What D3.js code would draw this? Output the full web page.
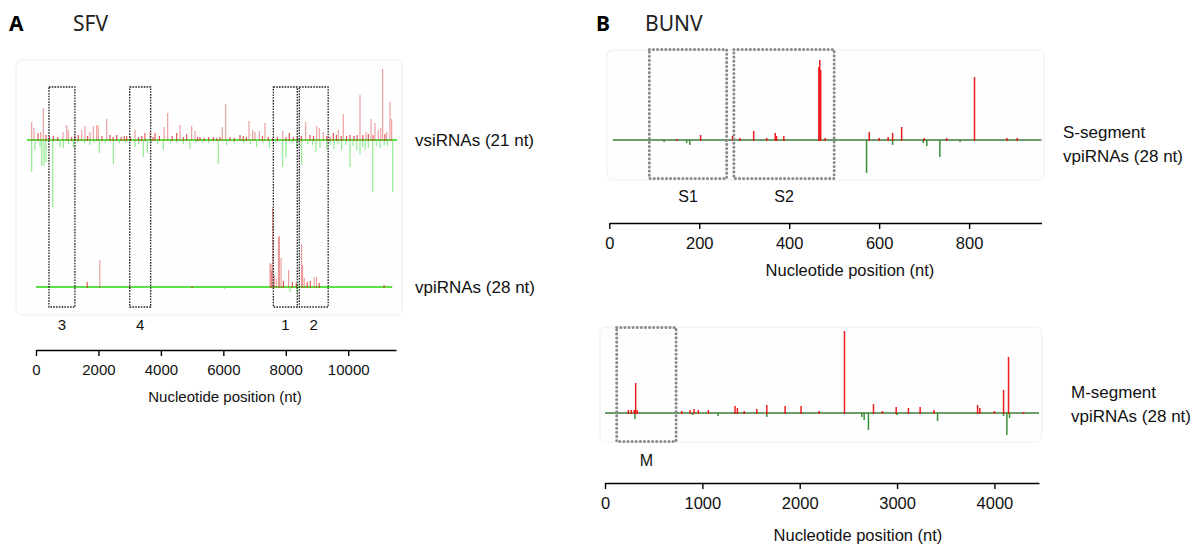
<!DOCTYPE html>
<html>
<head>
<meta charset="utf-8">
<script src="https://cdnjs.cloudflare.com/ajax/libs/d3/7.8.5/d3.min.js"></script>
<style>
  body { margin: 0; background: #fff; }
  text { font-family: "Liberation Sans", Arial, sans-serif; }
</style>
</head>
<body>
<script>
// SFV genome, read counts per position (21 nt siRNAs, + strand up / - strand down)
var sfvSiPlus = [[147,18],[219,12],[345,7],[430,8],[511,32],[596,5],[700,4],[825,4],[960,3],[1129,8],[1245,15],[1295,10],[1400,3],[1500,4],[1608,5],[1715,10],[1818,14],[1900,4],[1975,8],[2079,14],[2185,15],[2235,14],[2350,4],[2499,21],[2602,5],[2700,3],[2812,5],[2950,3],[3050,4],[3126,4],[3250,3],[3386,10],[3500,3],[3600,4],[3699,7],[3856,8],[3950,3],[4013,7],[4150,4],[4295,13],[4411,27],[4550,4],[4693,7],[4797,15],[4900,3],[5006,6],[5163,14],[5267,9],[5350,3],[5424,3],[5550,2],[5700,3],[5841,3],[5950,2],[6050,3],[6123,13],[6229,36],[6364,3],[6500,2],[6678,5],[6781,4],[6880,3],[6960,19],[7076,10],[7148,8],[7282,9],[7380,4],[7461,17],[7565,3],[7700,2],[7850,3],[8016,9],[8120,3],[8223,7],[8350,3],[8474,3],[8600,4],[8737,18],[8872,5],[8980,4],[9082,14],[9164,12],[9289,8],[9400,4],[9500,3],[9603,7],[9700,5],[9759,10],[9850,4],[9916,26],[10020,4],[10126,5],[10250,4],[10350,5],[10440,45],[10530,5],[10628,8],[10700,6],[10784,21],[10850,5],[10910,17],[11013,10],[11089,12],[11151,71],[11220,6],[11277,8],[11380,38],[11433,21]];
var sfvSiMinus = [[147,32],[251,10],[408,7],[461,26],[533,26],[596,22],[806,67],[1035,7],[1138,8],[1300,4],[1452,7],[1600,3],[1800,3],[1975,5],[2100,3],[2267,13],[2450,3],[2706,24],[2900,3],[3100,3],[3386,7],[3500,4],[3646,17],[3772,13],[3900,3],[4100,4],[4273,10],[4500,3],[4700,3],[4900,4],[5110,9],[5300,3],[5500,3],[5700,3],[5997,24],[6261,5],[6500,3],[6800,3],[7000,4],[7201,7],[7400,3],[7596,8],[7800,3],[8016,27],[8120,18],[8300,3],[8455,8],[8612,25],[8800,4],[8950,5],[9060,12],[9185,8],[9396,10],[9500,5],[9625,9],[9750,4],[9866,10],[10000,5],[10126,27],[10220,6],[10336,10],[10440,15],[10520,7],[10597,10],[10700,8],[10838,52],[10950,6],[11066,8],[11200,5],[11300,6],[11465,52]];
// SFV 28 nt piRNAs
var sfvPiPlus = [[1639,5],[2044,27],[3000,1],[5000,1],[7496,24],[7528,23],[7548,16],[7579,79],[7634,12],[7698,8],[7771,50],[7793,51],[7848,29],[7921,6],[8090,17],[8209,5],[8336,4],[8506,43],[8538,22],[8592,9],[8688,5],[8783,6],[8911,10],[8985,10],[9071,4],[11147,2]];
var sfvPiMinus = [[3641,1],[6037,2],[8135,5],[8359,6],[9500,1]];
var sfvBoxes = [["3",415,1246],["4",3002,3673],["1",7602,8368],["2",8432,9358]];
var sfvTicks = [0, 2000, 4000, 6000, 8000, 10000];

// BUNV S segment piRNAs
var sPlus = [[150,1],[203,5],[274,4],[290,2],[321,9],[350,2],[369,7],[372,4],[388,4],[466,73],[468,80],[470,70],[480,2],[578,8],[600,2],[620,3],[630,7],[650,13],[700,2],[750,2],[812,63],[884,2],[907,2]];
var sMinus = [[122,2],[172,3],[179,5],[260,2],[572,33],[630,5],[698,3],[706,6],[735,17],[780,2]];
var sBoxes = [["S1",89,261],["S2",277,500]];
var sTicks = [0, 200, 400, 600, 800];

// BUNV M segment piRNAs
var mPlus = [[240,3],[270,3],[300,3],[315,30],[330,3],[788,2],[874,3],[915,4],[959,3],[1062,3],[1336,7],[1360,5],[1430,2],[1559,4],[1662,8],[1850,7],[2014,7],[2200,2],[2460,82],[2758,9],[2850,2],[2991,6],[3117,5],[3237,6],[3380,3],[3827,8],[3850,5],[4000,2],[4094,23],[4145,56],[4300,1]];
var mMinus = [[308,6],[900,2],[1160,3],[1662,4],[2638,4],[2662,7],[2706,17],[3000,2],[3416,8],[4094,3],[4128,22],[4155,5]];
var mBoxes = [["M",120,730]];
var mTicks = [0, 1000, 2000, 3000, 4000];

var svg = d3.select("body")
  .append("svg")
  .attr("width", 1200)
  .attr("height", 544);

// one track: baseline + up/down bars
function drawTrack(x, y0, plus, minus, from, to, opt) {
  var y = d3.scaleLinear().domain([0, 100]).range([0, 100]);

  svg.append("g").selectAll("line")
    .data(minus)
    .join("line")
    .attr("x1", function(d) { return x(d[0]); })
    .attr("x2", function(d) { return x(d[0]); })
    .attr("y1", y0)
    .attr("y2", function(d) { return y0 + y(d[1]); })
    .style("stroke", opt.minus)
    .style("stroke-width", opt.w)
    .style("opacity", opt.minusOp);

  svg.append("line")
    .attr("x1", x(from))
    .attr("x2", x(to))
    .attr("y1", y0)
    .attr("y2", y0)
    .style("stroke", opt.base)
    .style("stroke-width", opt.baseW);

  svg.append("g").selectAll("line")
    .data(plus)
    .join("line")
    .attr("x1", function(d) { return x(d[0]); })
    .attr("x2", function(d) { return x(d[0]); })
    .attr("y1", y0 + 1)
    .attr("y2", function(d) { return y0 - y(d[1]); })
    .style("stroke", opt.plus)
    .style("stroke-width", opt.w)
    .style("opacity", function(d) { return d[1] < 8 ? opt.smallOp : opt.plusOp; });
}

function drawAxis(x, ticks, yAxis, size, titleY, titleX) {
  var g = svg.append("g")
    .attr("transform", "translate(0," + yAxis + ")")
    .call(d3.axisBottom(x).tickValues(ticks).tickSize(6).tickSizeOuter(0).tickPadding(8).tickFormat(d3.format("d")));
  g.select(".domain").style("stroke-width", 1.4);
  g.selectAll(".tick line").style("stroke-width", 1.4);
  g.selectAll(".tick text")
    .style("font-size", size + "px")
    .style("font-family", "'Liberation Sans', Arial, sans-serif")
    .style("fill", "#111");
  svg.append("text")
    .attr("x", titleX)
    .attr("y", titleY)
    .style("font-size", size + "px")
    .style("text-anchor", "middle")
    .style("fill", "#111")
    .text("Nucleotide position (nt)");
}

function drawBoxes(x, boxes, top, bottom, labelY, size, st) {
  svg.append("g").selectAll("rect")
    .data(boxes)
    .join("rect")
    .attr("x", function(d) { return x(d[1]); })
    .attr("y", top)
    .attr("width", function(d) { return x(d[2]) - x(d[1]); })
    .attr("height", bottom - top)
    .style("fill", "none")
    .style("stroke", st.color)
    .style("stroke-width", st.w)
    .style("stroke-dasharray", st.dash)
    .style("stroke-linecap", st.cap);
  svg.append("g").selectAll("text")
    .data(boxes)
    .join("text")
    .attr("x", function(d) { return (x(d[1]) + x(d[2])) / 2; })
    .attr("y", labelY)
    .style("font-size", size + "px")
    .style("text-anchor", "middle")
    .style("fill", "#111")
    .text(function(d) { return d[0]; });
}

function panelTitle(xL, xT, letter, name) {
  svg.append("text")
    .attr("x", xL).attr("y", 31)
    .style("font-family", "'Noto Sans', 'Open Sans', sans-serif")
    .style("font-weight", "bold")
    .style("font-size", "21px")
    .text(letter);
  svg.append("text")
    .attr("x", xT).attr("y", 31)
    .style("font-family", "'Noto Sans', 'Open Sans', sans-serif")
    .style("font-size", "21px")
    .style("fill", "#222")
    .text(name);
}

function bgBox(x0, y0, x1, y1) {
  svg.append("rect")
    .attr("x", x0).attr("y", y0)
    .attr("width", x1 - x0).attr("height", y1 - y0)
    .attr("rx", 6)
    .style("fill", "#fefefe")
    .style("stroke", "#eeeeee")
    .style("stroke-width", 1);
}

function sideLabel(x, y, lines, size) {
  var t = svg.append("text")
    .attr("x", x).attr("y", y)
    .style("font-size", size + "px")
    .style("fill", "#111");
  lines.forEach(function(l, i) {
    t.append("tspan").attr("x", x).attr("dy", i ? "1.4em" : 0).text(l);
  });
}

// ---------- A: SFV ----------
panelTitle(9, 73, "A", "SFV");
bgBox(16, 60, 402, 315);

var xA = d3.scaleLinear().domain([0, 11530]).range([36, 396]);
// the siRNA track was laid a little wider than the axis in the original
var xSi = d3.scaleLinear().domain([0, 11600]).range([27, 397]);

var sfvStyle = { plus: "#d42020", minus: "#3ddc3d", base: "#5ee04a", baseW: 2, w: 1.1, plusOp: 0.45, smallOp: 0.8, minusOp: 0.6 };
drawTrack(xSi, 140, sfvSiPlus, sfvSiMinus, 0, 11600, sfvStyle);
drawTrack(xA, 287, sfvPiPlus, sfvPiMinus, 0, 11410, sfvStyle);

drawBoxes(xA, sfvBoxes, 87, 307, 330, 15, { color: "#222", w: 1.3, dash: "1.6,1.2", cap: "butt" });
drawAxis(xA, sfvTicks, 350, 15, 402, 225);

sideLabel(415, 146, ["vsiRNAs (21 nt)"], 17);
sideLabel(415, 293, ["vpiRNAs (28 nt)"], 17);

// ---------- B: BUNV ----------
panelTitle(596, 645, "B", "BUNV");

var bStyle = { plus: "#ee1111", minus: "#2f8a2f", base: "#3d7d3d", baseW: 1.6, w: 1.5, plusOp: 0.95, smallOp: 0.95, minusOp: 0.95 };
var boxStyle = { color: "#8a8a8a", w: 3, dash: "0.1,4", cap: "round" };

// S segment
bgBox(607, 50, 1044, 180);
var xS = d3.scaleLinear().domain([0, 961]).range([609.3, 1041.5]);
drawTrack(xS, 140, sPlus, sMinus, 8, 961, bStyle);
drawBoxes(xS, sBoxes, 49.5, 178.5, 202, 16, boxStyle);
drawAxis(xS, sTicks, 223, 16.5, 276, 850);
sideLabel(1063, 138, ["S-segment", "vpiRNAs (28 nt)"], 17);

// M segment
bgBox(600, 327, 1042, 442);
var xM = d3.scaleLinear().domain([0, 4458]).range([605, 1039]);
drawTrack(xM, 413, mPlus, mMinus, 0, 4458, bStyle);
drawBoxes(xM, mBoxes, 327.5, 441.5, 466, 16, boxStyle);
drawAxis(xM, mTicks, 483, 16.5, 541, 858);
sideLabel(1071, 398, ["M-segment", "vpiRNAs (28 nt)"], 17);
</script>
</body>
</html>
